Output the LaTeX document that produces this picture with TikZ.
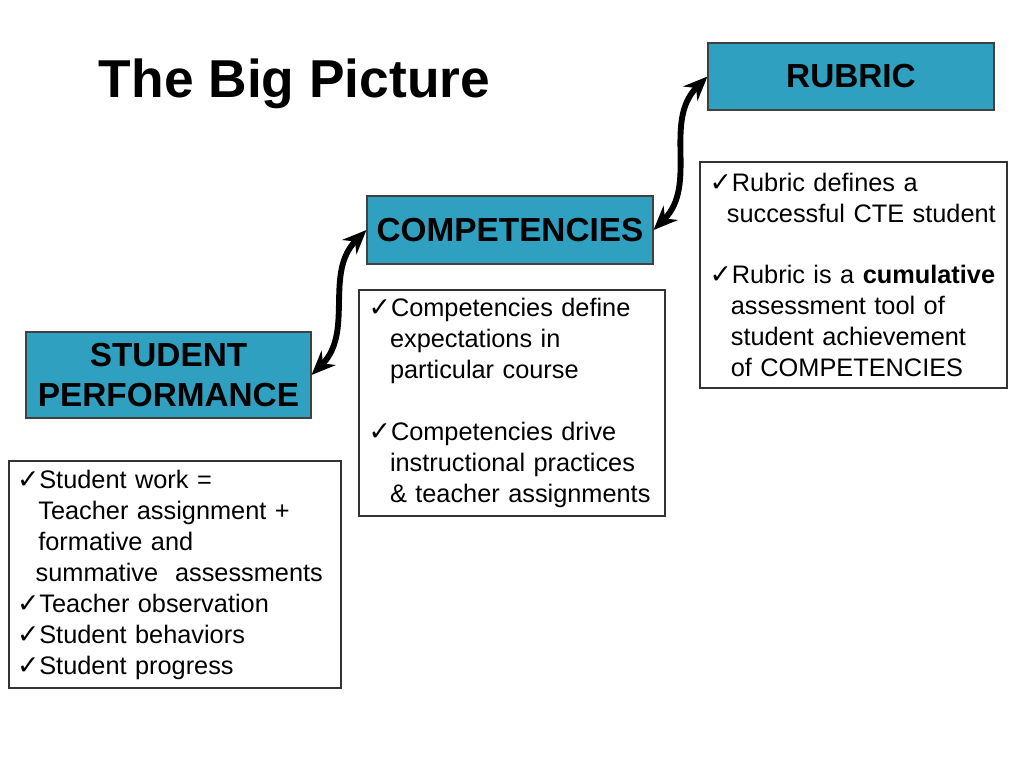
\documentclass[tikz,border=0pt]{standalone}
\usepackage{fontspec}
\setmainfont{Liberation Sans}
\newfontfamily\symfont{DejaVu Sans}
\usetikzlibrary{shapes,arrows,calc,arrows.meta}
\usetikzlibrary{positioning}
\definecolor{teal1}{RGB}{47,160,192}
\newcommand{\ck}{{\symfont\fontsize{20}{20}\selectfont ✓}}
\newcommand{\hang}{\hspace*{16pt}}

\begin{document}
\begin{tikzpicture}[x=0.75pt,y=0.75pt,
    head/.style={rectangle, draw=black!75, line width=0.8pt, fill=teal1, align=center,
        font=\bfseries\fontsize{25}{30}\selectfont, inner sep=0pt},
    list/.style={rectangle, draw=black!80, line width=0.8pt, fill=white, align=left,
        font=\fontsize{19}{23.25}\selectfont, inner ysep=0pt, inner xsep=7pt},
    link/.style={line width=4.4pt, {Stealth[length=18pt,width=15pt]}-{Stealth[length=18pt,width=15pt]}}]
            \useasboundingbox (0,0) rectangle (1024,768);
            \draw (294.5,684) node[font=\bfseries\fontsize{40}{48}\selectfont] (title) {The Big Picture};
            \draw (851,691.5) node[head, minimum width=214.5pt, minimum height=50.25pt] (rubric) {RUBRIC};
            \draw (510,538) node[head, minimum width=214.5pt, minimum height=51pt] (comp) {COMPETENCIES};
            \draw (168.5,393) node[head, minimum width=213.75pt, minimum height=64.5pt] (perf) {STUDENT\\PERFORMANCE};
            \draw (853.5,493) node[list, minimum width=230.25pt, minimum height=169.5pt, text width=216pt] (rubriclist)
                {\ck Rubric defines a\\ \hspace*{13pt}successful CTE student\\[23pt]
                 \ck Rubric is a \textbf{cumulative}\\ \hang assessment tool of\\ \hang student achievement\\ \hang of COMPETENCIES};
            \draw (512,365) node[list, minimum width=229.5pt, minimum height=169.5pt, text width=215pt] (complist)
                {\ck Competencies define\\ \hang expectations in\\ \hang particular course\\[23pt]
                 \ck Competencies drive\\ \hang instructional practices\\ \hang \& teacher assignments};
            \draw (175,193.5) node[list, minimum width=249pt, minimum height=170.25pt, text width=237pt, inner xsep=6pt] (perflist)
                {\ck Student work =\\ \hang Teacher assignment +\\ \hang formative and\\ \hspace*{14pt}summative~ assessments\\
                 \ck Teacher observation\\ \ck Student behaviors\\ \ck Student progress};
            \path[link]
            (perf.east) edge [out=45, in=225] (comp.west)
            (comp.east) edge [out=45, in=225] (rubric.west);
        \end{tikzpicture}
\end{document}
